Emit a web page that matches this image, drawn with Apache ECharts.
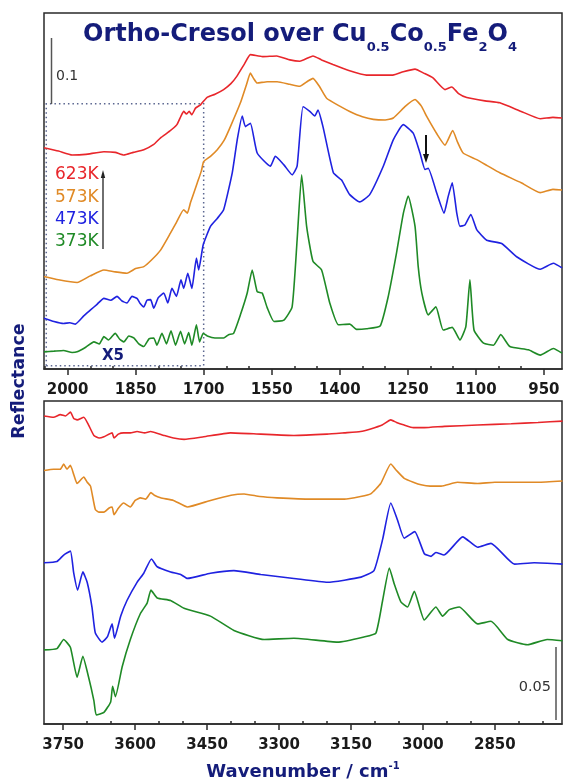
<!DOCTYPE html>
<html>
<head>
<meta charset="utf-8">
<script src="https://cdn.jsdelivr.net/npm/echarts@6/dist/echarts.min.js"></script>
<style>html,body{margin:0;padding:0;background:#fff}#c{width:563px;height:782px}</style>
</head>
<body>
<div id="c"></div>
<script>
// ---- tick labels ----
const topTicks = [2000,1850,1700,1550,1400,1250,1100,950];
const topMinor = [2050,1950,1900,1800,1750,1650,1600,1500,1450,1350,1300,1200,1150,1050,1000];
const botTicks = [3750,3600,3450,3300,3150,3000,2850];
const botMinor = [3700,3650,3550,3500,3400,3350,3250,3200,3100,3050,2950,2900,2800,2750];
const seriesNames = ['623K','573K','473K','373K'];

// ---- top panel (2050-910 cm-1), offset reflectance ----
const top623 = [[2052,0.335],[2020,0.330],[1990,0.324],[1960,0.325],[1920,0.329],[1895,0.328],[1876,0.324],[1855,0.328],[1832,0.332],[1810,0.340],[1795,0.350],[1775,0.360],[1759,0.370],[1750,0.383],[1744,0.390],[1738,0.386],[1732,0.390],[1726,0.385],[1718,0.395],[1707,0.400],[1693,0.411],[1675,0.416],[1656,0.423],[1640,0.432],[1627,0.443],[1610,0.462],[1597,0.476],[1570,0.473],[1539,0.474],[1510,0.468],[1488,0.466],[1459,0.474],[1440,0.468],[1415,0.461],[1380,0.452],[1341,0.445],[1283,0.445],[1260,0.450],[1234,0.454],[1215,0.448],[1195,0.441],[1168,0.423],[1153,0.427],[1138,0.417],[1120,0.411],[1080,0.406],[1047,0.403],[1000,0.390],[958,0.379],[930,0.381],[910,0.380]];
const top573 = [[2052,0.140],[2020,0.135],[1979,0.131],[1950,0.141],[1920,0.150],[1895,0.147],[1869,0.145],[1850,0.152],[1832,0.155],[1815,0.165],[1795,0.180],[1773,0.206],[1760,0.222],[1744,0.241],[1736,0.236],[1729,0.252],[1714,0.282],[1705,0.300],[1700,0.314],[1685,0.322],[1670,0.332],[1655,0.346],[1641,0.367],[1619,0.403],[1605,0.432],[1597,0.448],[1590,0.440],[1582,0.433],[1560,0.435],[1538,0.435],[1510,0.431],[1488,0.428],[1470,0.436],[1459,0.440],[1445,0.428],[1429,0.410],[1400,0.398],[1378,0.390],[1350,0.382],[1326,0.378],[1300,0.377],[1282,0.380],[1255,0.398],[1234,0.408],[1220,0.398],[1208,0.382],[1185,0.355],[1168,0.339],[1151,0.361],[1140,0.343],[1128,0.327],[1098,0.317],[1075,0.308],[1047,0.297],[1000,0.282],[958,0.267],[930,0.272],[910,0.271]];
const top473 = [[2052,0.077],[2030,0.072],[2009,0.069],[1995,0.070],[1983,0.068],[1965,0.080],[1950,0.089],[1935,0.098],[1920,0.107],[1905,0.104],[1891,0.110],[1880,0.103],[1869,0.100],[1858,0.110],[1847,0.107],[1840,0.099],[1832,0.094],[1825,0.104],[1817,0.105],[1810,0.092],[1800,0.108],[1788,0.115],[1779,0.100],[1770,0.122],[1760,0.110],[1750,0.135],[1744,0.122],[1735,0.145],[1726,0.122],[1716,0.168],[1711,0.150],[1701,0.188],[1685,0.216],[1670,0.228],[1656,0.241],[1637,0.297],[1626,0.347],[1615,0.383],[1608,0.367],[1597,0.372],[1582,0.327],[1553,0.307],[1542,0.322],[1523,0.309],[1505,0.294],[1494,0.307],[1481,0.397],[1466,0.390],[1455,0.383],[1448,0.392],[1437,0.367],[1414,0.297],[1396,0.286],[1378,0.264],[1356,0.253],[1334,0.264],[1304,0.307],[1282,0.347],[1260,0.370],[1238,0.357],[1223,0.327],[1212,0.302],[1205,0.304],[1186,0.266],[1170,0.236],[1161,0.261],[1152,0.282],[1142,0.236],[1135,0.216],[1124,0.218],[1111,0.234],[1098,0.211],[1076,0.195],[1043,0.190],[1010,0.170],[958,0.151],[929,0.160],[910,0.153]];
const top373 = [[2052,0.026],[2030,0.027],[2009,0.028],[1990,0.025],[1979,0.026],[1960,0.033],[1942,0.041],[1930,0.038],[1920,0.049],[1910,0.044],[1895,0.054],[1885,0.045],[1876,0.041],[1865,0.050],[1854,0.047],[1843,0.038],[1832,0.034],[1820,0.046],[1810,0.047],[1803,0.036],[1792,0.054],[1782,0.038],[1772,0.058],[1762,0.036],[1751,0.057],[1742,0.038],[1733,0.055],[1726,0.036],[1716,0.067],[1709,0.041],[1701,0.054],[1692,0.050],[1675,0.047],[1656,0.047],[1645,0.052],[1634,0.054],[1619,0.082],[1604,0.115],[1593,0.150],[1582,0.117],[1571,0.115],[1560,0.093],[1545,0.072],[1523,0.074],[1505,0.094],[1494,0.195],[1484,0.294],[1473,0.216],[1459,0.163],[1440,0.150],[1422,0.100],[1403,0.067],[1378,0.068],[1363,0.060],[1341,0.061],[1311,0.065],[1293,0.110],[1275,0.175],[1260,0.235],[1249,0.262],[1234,0.216],[1227,0.155],[1219,0.115],[1205,0.082],[1188,0.094],[1172,0.059],[1152,0.063],[1135,0.044],[1122,0.064],[1113,0.135],[1104,0.059],[1083,0.039],[1061,0.036],[1045,0.052],[1025,0.034],[984,0.029],[958,0.021],[929,0.031],[910,0.024]];

// ---- bottom panel (3790-2710 cm-1), offset reflectance ----
const bot623 = [[3790,0.237],[3770,0.236],[3756,0.238],[3745,0.237],[3735,0.240],[3728,0.235],[3721,0.234],[3707,0.236],[3697,0.230],[3686,0.222],[3675,0.220],[3665,0.221],[3648,0.224],[3644,0.220],[3635,0.223],[3624,0.224],[3610,0.224],[3596,0.225],[3580,0.224],[3568,0.225],[3540,0.222],[3520,0.220],[3498,0.219],[3457,0.221],[3401,0.224],[3338,0.223],[3269,0.222],[3200,0.223],[3164,0.224],[3130,0.225],[3109,0.227],[3085,0.230],[3067,0.234],[3055,0.232],[3039,0.230],[3020,0.228],[2997,0.228],[2955,0.229],[2886,0.230],[2816,0.231],[2760,0.232],[2709,0.233]];
const bot573 = [[3790,0.195],[3770,0.196],[3756,0.196],[3749,0.200],[3742,0.196],[3735,0.199],[3728,0.192],[3721,0.185],[3707,0.190],[3700,0.186],[3693,0.183],[3683,0.165],[3675,0.163],[3665,0.163],[3655,0.166],[3648,0.167],[3644,0.161],[3635,0.166],[3624,0.170],[3610,0.167],[3600,0.172],[3589,0.174],[3578,0.173],[3567,0.178],[3560,0.176],[3547,0.174],[3520,0.172],[3491,0.167],[3443,0.172],[3400,0.176],[3373,0.177],[3340,0.175],[3304,0.174],[3234,0.173],[3164,0.173],[3130,0.175],[3109,0.177],[3088,0.185],[3067,0.200],[3055,0.195],[3039,0.189],[3020,0.186],[3004,0.184],[2985,0.183],[2962,0.183],[2928,0.186],[2886,0.185],[2850,0.186],[2816,0.186],[2760,0.186],[2709,0.187]];
const bot473 = [[3790,0.124],[3763,0.125],[3749,0.130],[3735,0.133],[3728,0.116],[3720,0.103],[3709,0.117],[3700,0.109],[3690,0.090],[3683,0.070],[3669,0.063],[3658,0.067],[3648,0.077],[3643,0.066],[3630,0.083],[3617,0.095],[3596,0.109],[3582,0.116],[3566,0.127],[3554,0.121],[3526,0.117],[3505,0.115],[3491,0.112],[3443,0.116],[3394,0.118],[3338,0.115],[3269,0.112],[3199,0.109],[3129,0.113],[3102,0.118],[3084,0.142],[3067,0.170],[3053,0.157],[3039,0.143],[3017,0.148],[2997,0.131],[2983,0.129],[2973,0.132],[2956,0.130],[2917,0.144],[2886,0.136],[2858,0.139],[2809,0.123],[2768,0.124],[2709,0.123]];
const bot373 = [[3790,0.057],[3763,0.058],[3749,0.065],[3735,0.059],[3721,0.036],[3709,0.052],[3697,0.036],[3686,0.018],[3681,0.007],[3665,0.009],[3651,0.017],[3647,0.029],[3641,0.021],[3627,0.044],[3610,0.065],[3589,0.085],[3575,0.093],[3567,0.103],[3554,0.097],[3526,0.095],[3498,0.089],[3443,0.083],[3394,0.072],[3331,0.065],[3269,0.066],[3178,0.063],[3123,0.067],[3098,0.070],[3084,0.095],[3070,0.120],[3060,0.108],[3046,0.094],[3032,0.090],[3018,0.102],[2997,0.080],[2973,0.090],[2959,0.083],[2945,0.088],[2924,0.090],[2886,0.077],[2858,0.079],[2823,0.065],[2782,0.061],[2741,0.065],[2709,0.064]];

const colors = ['#e8262b','#e08a26','#1f22e0','#1f8a26'];
const navy = '#141c7a';
const FF = 'DejaVu Sans';

const chart = echarts.init(document.getElementById('c'), null, {renderer:'canvas'});

function mainAxis(gi, min, max, ticks) {
  return {
    gridIndex: gi, type: 'value', inverse: true, min: min, max: max,
    axisLine: {show: true, onZero: false, lineStyle: {color: '#2a2a2a', width: 1.5}},
    axisTick: {show: true, customValues: ticks, length: 6, lineStyle: {color: '#2a2a2a', width: 1.5}},
    axisLabel: {show: true, customValues: ticks, margin: 14, formatter: function (v) { return String(v); },
      fontFamily: FF, fontWeight: 'bold', fontSize: 15, color: '#1a1a1a'},
    splitLine: {show: false}
  };
}
function minorAxis(gi, min, max, ticks) {
  return {
    gridIndex: gi, type: 'value', inverse: true, min: min, max: max,
    axisLine: {show: false},
    axisTick: {show: true, customValues: ticks, length: 3, lineStyle: {color: '#2a2a2a', width: 1.5}},
    axisLabel: {show: false},
    splitLine: {show: false}
  };
}
function line(data, ci, xi, yi, extra) {
  return Object.assign({
    type: 'line', name: seriesNames[ci], data: data, xAxisIndex: xi, yAxisIndex: yi,
    showSymbol: false, symbol: 'none', smooth: 0.15, animation: false, silent: true,
    lineStyle: {color: colors[ci], width: 1.6}, itemStyle: {color: colors[ci]}
  }, extra || {});
}

const option = {
  animation: false,
  backgroundColor: '#fff',
  grid: [
    {left: 44, right: 1, top: 13, height: 356, show: true, borderColor: '#2a2a2a', borderWidth: 1.5, backgroundColor: 'transparent'},
    {left: 44, right: 1, top: 401, height: 323, show: true, borderColor: '#2a2a2a', borderWidth: 1.5, backgroundColor: 'transparent'}
  ],
  xAxis: [
    mainAxis(0, 910, 2052, topTicks),
    minorAxis(0, 910, 2052, topMinor),
    mainAxis(1, 2710, 3790, botTicks),
    minorAxis(1, 2710, 3790, botMinor)
  ],
  yAxis: [
    {gridIndex: 0, show: false, min: 0, max: 0.539},
    {gridIndex: 1, show: false, min: 0, max: 0.2485}
  ],
  series: [
    line(top623, 0, 0, 0),
    line(top573, 1, 0, 0),
    line(top473, 2, 0, 0),
    line(top373, 3, 0, 0, {
      markArea: {silent: true, label: {show: false},
        itemStyle: {color: 'rgba(0,0,0,0)', borderColor: '#5b6690', borderWidth: 1.5, borderType: [1.5, 3]},
        data: [[{xAxis: 2047, yAxis: 0.005}, {xAxis: 1700, yAxis: 0.4015}]]}
    }),
    line(bot623, 0, 2, 1),
    line(bot573, 1, 2, 1),
    line(bot473, 2, 2, 1),
    line(bot373, 3, 2, 1)
  ],
  graphic: [
    {type: 'text', z: 100, style: {x: 300, y: 23, align: 'center', verticalAlign: 'top',
      text: '{m|Ortho-Cresol over Cu}{s|0.5}{m|Co}{s|0.5}{m|Fe}{s|2}{m|O}{s|4}',
      rich: {
        m: {fontFamily: FF, fontWeight: 'bold', fontSize: 24, lineHeight: 24, verticalAlign: 'top', fill: navy, color: navy},
        s: {fontFamily: FF, fontWeight: 'bold', fontSize: 13, lineHeight: 13, padding: [18, 0, 0, 0], verticalAlign: 'top', fill: navy, color: navy}
      }}},
    {type: 'text', z: 100, rotation: Math.PI / 2, x: 19, y: 381,
      style: {x: 0, y: 0, text: 'Reflectance', align: 'center', verticalAlign: 'middle', fontFamily: FF, fontWeight: 'bold', fontSize: 17.5, fill: navy}},
    {type: 'text', z: 100, style: {x: 303, y: 771, align: 'center', verticalAlign: 'middle',
      text: '{m|Wavenumber / cm}{p|-1}',
      rich: {
        m: {fontFamily: FF, fontWeight: 'bold', fontSize: 18, lineHeight: 20, verticalAlign: 'bottom', fill: navy, color: navy},
        p: {fontFamily: FF, fontWeight: 'bold', fontSize: 10, lineHeight: 10, verticalAlign: 'top', fill: navy, color: navy}
      }}},
    // scale bar 0.1
    {type: 'line', z: 100, shape: {x1: 51.5, y1: 38, x2: 51.5, y2: 104}, style: {stroke: '#555', lineWidth: 1.5}},
    {type: 'text', z: 100, style: {x: 56, y: 76, text: '0.1', verticalAlign: 'middle', fontFamily: FF, fontSize: 14, fill: '#333'}},
    // scale bar 0.05
    {type: 'line', z: 100, shape: {x1: 556, y1: 647, x2: 556, y2: 720}, style: {stroke: '#555', lineWidth: 1.5}},
    {type: 'text', z: 100, style: {x: 551, y: 687, text: '0.05', align: 'right', verticalAlign: 'middle', fontFamily: FF, fontSize: 14.5, fill: '#333'}},
    // legend labels
    {type: 'text', z: 100, style: {x: 55, y: 175, text: seriesNames[0], verticalAlign: 'middle', fontFamily: FF, fontSize: 17, fill: colors[0]}},
    {type: 'text', z: 100, style: {x: 55, y: 198, text: seriesNames[1], verticalAlign: 'middle', fontFamily: FF, fontSize: 17, fill: colors[1]}},
    {type: 'text', z: 100, style: {x: 55, y: 220, text: seriesNames[2], verticalAlign: 'middle', fontFamily: FF, fontSize: 17, fill: colors[2]}},
    {type: 'text', z: 100, style: {x: 55, y: 242, text: seriesNames[3], verticalAlign: 'middle', fontFamily: FF, fontSize: 17, fill: colors[3]}},
    // legend arrow (up)
    {type: 'line', z: 100, shape: {x1: 103, y1: 249, x2: 103, y2: 176}, style: {stroke: '#222', lineWidth: 1.3}},
    {type: 'polygon', z: 100, shape: {points: [[103, 170], [100.8, 178], [105.2, 178]]}, style: {fill: '#222'}},
    // down arrow
    {type: 'line', z: 100, shape: {x1: 426, y1: 135, x2: 426, y2: 155}, style: {stroke: '#111', lineWidth: 2}},
    {type: 'polygon', z: 100, shape: {points: [[426, 163], [423, 154], [429, 154]]}, style: {fill: '#111'}},
    // X5
    {type: 'text', z: 100, style: {x: 113, y: 356, text: 'X5', align: 'center', verticalAlign: 'middle', fontFamily: FF, fontWeight: 'bold', fontSize: 15, fill: navy}}
  ]
};
chart.setOption(option);
</script>
</body>
</html>
